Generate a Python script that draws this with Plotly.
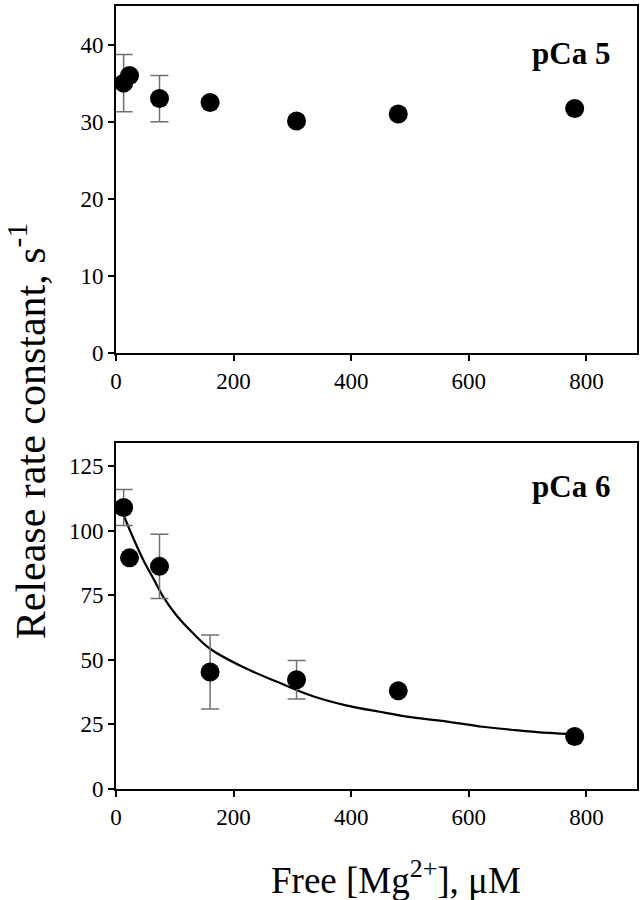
import plotly.graph_objects as go

# Data
mg_free = [13, 23, 74, 160, 307, 480, 780]

pca5_rate = [35.0, 36.0, 33.0, 32.5, 30.1, 31.0, 31.7]
pca5_err = [3.7, None, 3.0, None, None, None, None]

pca6_rate = [109.0, 89.5, 86.2, 45.3, 42.3, 38.0, 20.3]
pca6_err = [7.0, None, 12.4, 14.3, 7.5, None, None]

fit_x = [13, 30, 47, 64, 81, 103, 132, 160, 216, 273, 335, 391, 448, 504, 566, 623, 679, 736, 780]
fit_y = [106.0, 96.8, 88.4, 81.3, 74.2, 67.2, 60.1, 54.3, 47.2, 41.6, 35.9, 32.4, 29.9, 27.7, 26.0, 24.1, 22.8, 21.7, 21.2]

x_ticks = [0, 200, 400, 600, 800]
y5_ticks = [0, 10, 20, 30, 40]
y6_ticks = [0, 25, 50, 75, 100, 125]

FONT = "Liberation Serif, Times New Roman, serif"
ERR_COLOR = "#707070"

fig = go.Figure()

fig.add_trace(go.Scatter(
    x=mg_free, y=pca5_rate, mode="markers",
    marker=dict(color="black", size=19),
    error_y=dict(type="data", array=pca5_err, visible=True,
                 color=ERR_COLOR, thickness=1.5, width=9),
    xaxis="x", yaxis="y", showlegend=False))

fig.add_trace(go.Scatter(
    x=fit_x, y=fit_y, mode="lines", line=dict(color="black", width=2.2, shape="spline"),
    xaxis="x2", yaxis="y2", showlegend=False))

fig.add_trace(go.Scatter(
    x=mg_free, y=pca6_rate, mode="markers",
    marker=dict(color="black", size=19),
    error_y=dict(type="data", array=pca6_err, visible=True,
                 color=ERR_COLOR, thickness=1.5, width=9),
    xaxis="x2", yaxis="y2", showlegend=False))

axis_common = dict(
    showgrid=False, zeroline=False, showline=True, linecolor="black", linewidth=2,
    mirror=True, ticks="outside", ticklen=6, tickwidth=2, tickcolor="black",
    tickfont=dict(family=FONT, size=23, color="black"),
)

fig.update_layout(
    width=643, height=900,
    margin=dict(l=116, r=4, t=4, b=111),
    paper_bgcolor="white", plot_bgcolor="white",
    font=dict(family=FONT, color="black"),
    xaxis=dict(domain=[0, 1], anchor="y", range=[0, 886], tickvals=x_ticks, **axis_common),
    yaxis=dict(domain=[0.5567, 1], anchor="x", range=[0, 45], tickvals=y5_ticks, **axis_common),
    xaxis2=dict(domain=[0, 1], anchor="y2", range=[0, 886], tickvals=x_ticks, **axis_common),
    yaxis2=dict(domain=[0, 0.442], anchor="x2", range=[0, 134], tickvals=y6_ticks, **axis_common),
    annotations=[
        dict(text="<b>pCa 5</b>", x=773, y=38.8, xref="x", yref="y", showarrow=False,
             font=dict(family=FONT, size=31, color="black")),
        dict(text="<b>pCa 6</b>", x=773, y=117, xref="x2", yref="y2", showarrow=False,
             font=dict(family=FONT, size=31, color="black")),
        dict(text="Release rate constant, s<sup>-1</sup>", x=(28 - 116) / 523, y=(789 - 430) / 785,
             xref="paper", yref="paper", showarrow=False, textangle=-90,
             xanchor="center", yanchor="middle",
             font=dict(family=FONT, size=42, color="black")),
        dict(text="Free [Mg<sup>2+</sup>], \u03bcM", x=(397 - 116) / 523, y=-(878 - 789) / 785,
             xref="paper", yref="paper", showarrow=False,
             xanchor="center", yanchor="middle",
             font=dict(family=FONT, size=37, color="black")),
    ],
)

fig.write_html("out.html", config={"displayModeBar": False},
               post_script="document.body.style.margin='0';document.body.style.overflow='hidden';")
